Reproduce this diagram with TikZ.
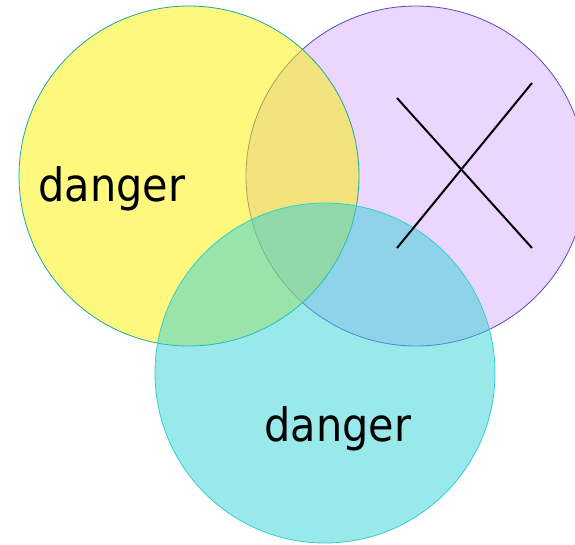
\documentclass[tikz,border=0pt]{standalone}
\usepackage{fontspec}
\setmainfont{DejaVu Sans Condensed}
\usepackage{tikz}

\definecolor{sunyellow}{RGB}{253,241,0}
\definecolor{lilac}{RGB}{234,214,254}
\definecolor{lilacedge}{RGB}{80,80,176}
\definecolor{aqua}{RGB}{51,209,213}
\definecolor{aquaedge}{RGB}{48,208,208}
\definecolor{tealedge}{RGB}{26,168,168}

\tikzset{
  ring/.style={line width=0.8pt},
  word/.style={anchor=base,inner sep=0pt,font=\fontsize{46}{46}\selectfont}
}

\begin{document}
\begin{tikzpicture}[x=1pt,y=-1pt]

              % Frame
              \useasboundingbox (0,0) rectangle (575,544);
              \clip (0,0) rectangle (575,544);
            
              % Purple circle
              \draw [ring,draw=lilacedge,fill=lilac] (416,176) circle (170);
            
              % Yellow circle
              \draw [ring,draw=tealedge,fill=sunyellow,fill opacity=0.5] (189,176) circle (170);
            
              % Cyan circle
              \draw [ring,draw=aquaedge,fill=aqua,fill opacity=0.5] (325,373) circle (170);
            
              % Cross
              \coordinate (nw) at (397,98);
              \coordinate (se) at (532,248);
              \coordinate (ne) at (532,83);
              \coordinate (sw) at (397,248);
              \draw [line width=2pt] (nw) -- (se);
              \draw [line width=2pt] (ne) -- (sw);
            
              % Labels
              \node[word] (top) at (112,201) {danger};
              \node[word] (bottom) at (338,441) {danger};
        
        \end{tikzpicture}
\end{document}
